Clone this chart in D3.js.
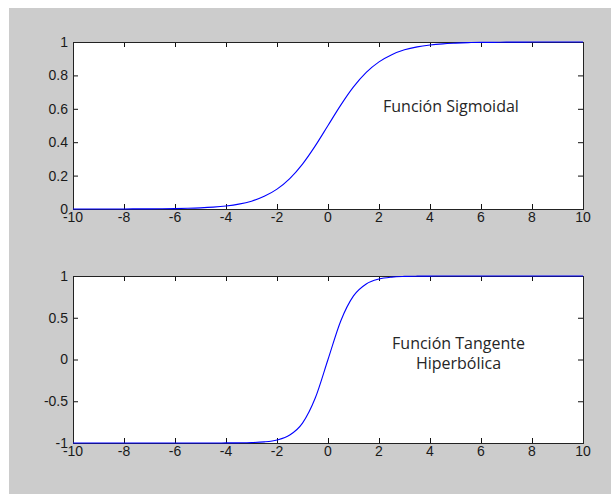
<!DOCTYPE html>
<html>
<head>
<meta charset="utf-8">
<script src="https://cdn.jsdelivr.net/npm/d3@7"></script>
<style>
    html, body { margin: 0; padding: 0; background: #fff; }
    svg { display: block; }
    .tick-label { font-family: 'Liberation Sans', Arial, sans-serif; font-size: 14px; fill: #1a1a1a; }
    .note { font-family: 'Open Sans', 'Noto Sans', sans-serif; font-size: 16px; fill: #262626; }
</style>
</head>
<body>
<svg id="chart"></svg>
<script>
// x samples shared by both curves
const xValues = [-10, -9.5, -9, -8.5, -8, -7.5, -7, -6.5, -6, -5.5, -5, -4.5, -4, -3.5, -3, -2.5, -2, -1.5, -1, -0.5,
    0, 0.5, 1, 1.5, 2, 2.5, 3, 3.5, 4, 4.5, 5, 5.5, 6, 6.5, 7, 7.5, 8, 8.5, 9, 9.5, 10];

const sigmoidValues = [0.0000, 0.0001, 0.0001, 0.0002, 0.0003, 0.0006, 0.0009, 0.0015, 0.0025, 0.0041,
    0.0067, 0.011, 0.018, 0.029, 0.047, 0.076, 0.119, 0.182, 0.269, 0.378,
    0.5, 0.622, 0.731, 0.818, 0.881, 0.924, 0.953, 0.971, 0.982, 0.989,
    0.993, 0.996, 0.998, 0.998, 0.999, 0.999, 1, 1, 1, 1, 1];

const tanhValues = [-1, -1, -1, -1, -1, -1, -1, -1, -1, -1,
    -1, -1, -0.999, -0.998, -0.995, -0.987, -0.964, -0.905, -0.762, -0.462,
    0, 0.462, 0.762, 0.905, 0.964, 0.987, 0.995, 0.998, 0.999, 1,
    1, 1, 1, 1, 1, 1, 1, 1, 1, 1, 1];

const xTicks = [-10, -8, -6, -4, -2, 0, 2, 4, 6, 8, 10];
const sigmoidTicks = [0, 0.2, 0.4, 0.6, 0.8, 1];
const tanhTicks = [-1, -0.5, 0, 0.5, 1];

const sigmoidNote = ['Función Sigmoidal'];
const tanhNote = ['Función Tangente', 'Hiperbólica'];

const svg = d3.select('#chart')
    .attr('width', 611)
    .attr('height', 494);

// figure background (grey panel)
svg.append('rect')
    .attr('x', 9)
    .attr('y', 8)
    .attr('width', 602)
    .attr('height', 486)
    .attr('fill', '#cccccc');

class LinePanel {

    constructor(_config, xs, ys) {
        this.config = {
            left: _config.left,
            top: _config.top,
            width: _config.width,
            height: _config.height,
            yDomain: _config.yDomain,
            yTicks: _config.yTicks,
            note: _config.note,
            noteX: _config.noteX,
            noteY: _config.noteY,
            noteAnchor: _config.noteAnchor || 'start'
        };
        this.data = xs.map((x, i) => ({ x: x, y: ys[i] }));
        this.initVis();
    }

    initVis() {
        let vis = this;
        const c = vis.config;

        vis.chart = svg.append('g')
            .attr('transform', `translate(${c.left}, ${c.top})`);

        vis.xScale = d3.scaleLinear()
            .domain([-10, 10])
            .range([0, c.width]);

        vis.yScale = d3.scaleLinear()
            .domain(c.yDomain)
            .range([c.height, 0]);

        vis.chart.append('rect')
            .attr('width', c.width)
            .attr('height', c.height)
            .attr('fill', '#fff');

        // ticks point inward on all four sides, like matlab's boxed axes
        const tickLen = 5;
        const styleAxis = g => {
            g.select('.domain').remove();
            g.selectAll('.tick line').attr('stroke', '#111');
            g.selectAll('.tick text').remove();
        };

        vis.chart.append('g')
            .attr('transform', `translate(0, ${c.height})`)
            .call(d3.axisTop(vis.xScale).tickValues(xTicks).tickSize(tickLen))
            .call(styleAxis);
        vis.chart.append('g')
            .call(d3.axisBottom(vis.xScale).tickValues(xTicks).tickSize(tickLen))
            .call(styleAxis);
        vis.chart.append('g')
            .call(d3.axisRight(vis.yScale).tickValues(c.yTicks).tickSize(tickLen))
            .call(styleAxis);
        vis.chart.append('g')
            .attr('transform', `translate(${c.width}, 0)`)
            .call(d3.axisLeft(vis.yScale).tickValues(c.yTicks).tickSize(tickLen))
            .call(styleAxis);

        vis.chart.append('rect')
            .attr('x', 0.5)
            .attr('y', 0.5)
            .attr('width', c.width)
            .attr('height', c.height)
            .attr('fill', 'none')
            .attr('stroke', '#222')
            .attr('stroke-width', 1);

        // tick labels
        vis.chart.append('g')
            .selectAll('text')
            .data(xTicks)
            .join('text')
                .attr('class', 'tick-label')
                .attr('x', d => vis.xScale(d))
                .attr('y', c.height + 3)
                .attr('dy', '0.71em')
                .attr('text-anchor', 'middle')
                .text(d => d);

        vis.chart.append('g')
            .selectAll('text')
            .data(c.yTicks)
            .join('text')
                .attr('class', 'tick-label')
                .attr('x', -5)
                .attr('y', d => vis.yScale(d))
                .attr('dy', '0.35em')
                .attr('text-anchor', 'end')
                .text(d => d);
    }

    render() {
        let vis = this;
        const c = vis.config;

        const line = d3.line()
            .x(d => vis.xScale(d.x))
            .y(d => vis.yScale(d.y))
            .curve(d3.curveMonotoneX);

        vis.chart.append('path')
            .datum(vis.data)
            .attr('fill', 'none')
            .attr('stroke', '#0000ff')
            .attr('stroke-width', 1.1)
            .attr('d', line);

        vis.chart.append('g')
            .selectAll('text')
            .data(c.note)
            .join('text')
                .attr('class', 'note')
                .attr('x', c.noteX)
                .attr('y', (d, i) => c.noteY + i * 20)
                .attr('text-anchor', c.noteAnchor)
                .text(d => d);
    }
}

const sigmoidPanel = new LinePanel({
    left: 73, top: 42, width: 510, height: 167,
    yDomain: [0, 1], yTicks: sigmoidTicks,
    note: sigmoidNote, noteX: 310, noteY: 70
}, xValues, sigmoidValues);
sigmoidPanel.render();

const tanhPanel = new LinePanel({
    left: 73, top: 276, width: 510, height: 167,
    yDomain: [-1, 1], yTicks: tanhTicks,
    note: tanhNote, noteX: 385.5, noteY: 73, noteAnchor: 'middle'
}, xValues, tanhValues);
tanhPanel.render();
</script>
</body>
</html>
